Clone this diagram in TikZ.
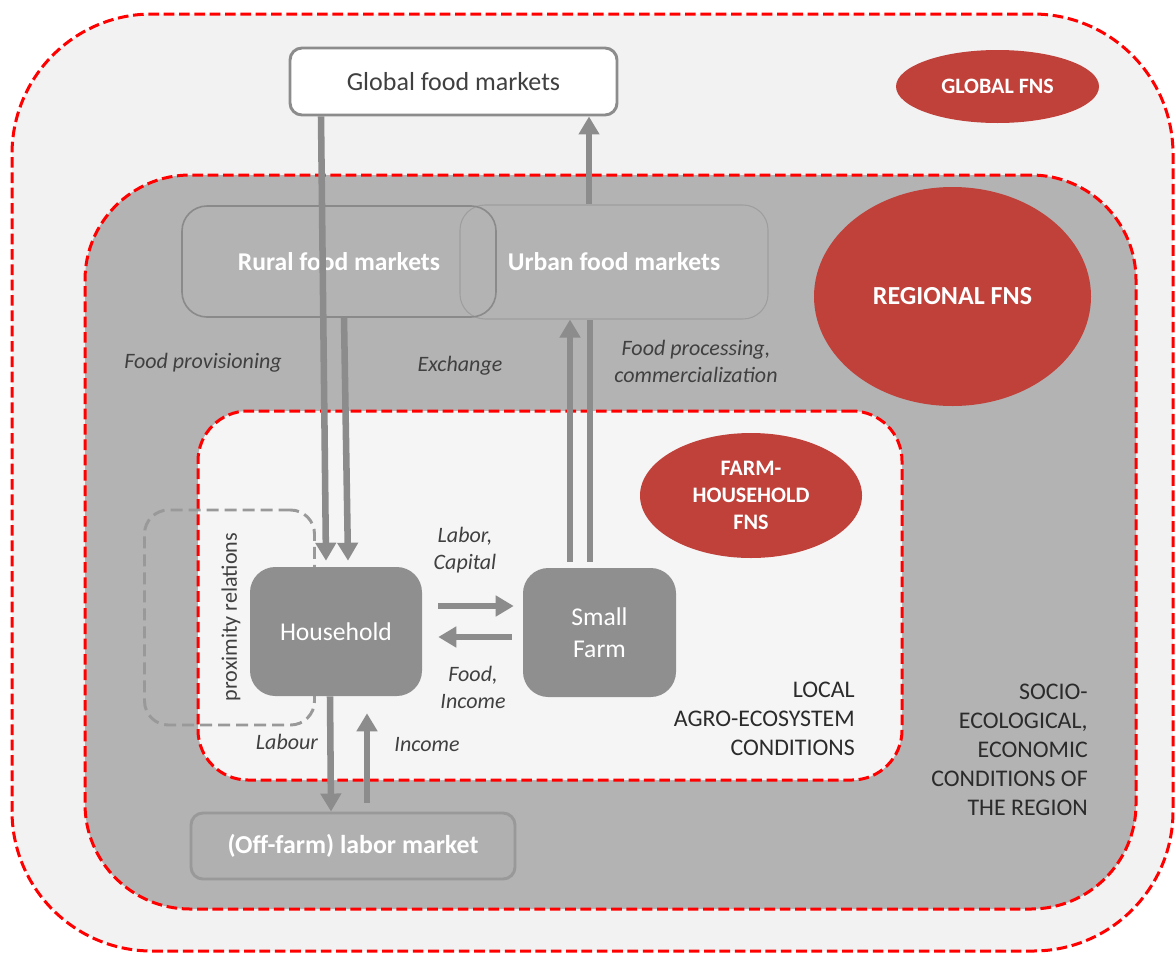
\documentclass[tikz,border=0pt]{standalone}
\usepackage{fontspec}
\setmainfont{Carlito}
\usetikzlibrary{arrows.meta,shapes.geometric,calc}
\definecolor{zonered}{HTML}{FF0000}
\definecolor{outerbg}{HTML}{F2F2F2}
\definecolor{regbg}{HTML}{B3B3B3}
\definecolor{locbg}{HTML}{F5F5F5}
\definecolor{boxgray}{HTML}{8F8F8F}
\definecolor{arrgray}{HTML}{8C8C8C}
\definecolor{fnsred}{HTML}{C0403A}
\definecolor{labeltext}{HTML}{404040}
\definecolor{condtext}{HTML}{2B2B2B}
\definecolor{urbanline}{HTML}{9E9E9E}
\definecolor{ruralline}{HTML}{8A8A8A}
\definecolor{dashgray}{HTML}{999999}
\definecolor{laborfill}{HTML}{B0B0B0}
\begin{document}
\begin{tikzpicture}[x=0.75pt,y=-0.75pt,
  zone/.style={draw=zonered, line width=2.25pt, dash pattern=on 8pt off 3.5pt, rectangle, inner sep=0pt},
  fns/.style={ellipse, fill=fnsred, text=white, inner sep=0pt, align=center},
  arr/.style={draw=arrgray, line width=4.9pt, -{Triangle[length=13.5pt,width=15pt]}},
  plainline/.style={draw=arrgray, line width=4.9pt},
  lbl/.style={font=\itshape\fontsize{16.5}{20.25}\selectfont, text=labeltext, align=center, inner sep=0pt},
  cond/.style={font=\fontsize{17.9}{21.75}\selectfont, text=condtext, align=right, inner sep=0pt},
  market/.style={rectangle, rounded corners=18.75pt, inner sep=0pt, text=white, font=\bfseries\fontsize{19.2}{23}\selectfont},
  actor/.style={rectangle, rounded corners=19pt, fill=boxgray, inner sep=0pt, text=white, align=center, font=\fontsize{19.2}{24}\selectfont}
]
\useasboundingbox (0,0) rectangle (1176,953);

% zones
\node[zone, fill=outerbg, rounded corners=105pt, minimum width=870.75pt, minimum height=702.75pt] (outer) at (592.5,482.5) {};
\node[zone, fill=regbg, rounded corners=78.75pt, minimum width=788.25pt, minimum height=550.5pt] (region) at (610.5,542) {};
\node[zone, fill=locbg, rounded corners=37.5pt, minimum width=528pt, minimum height=276.75pt] (local) at (550,595.5) {};

% FNS ellipses
\node[fns, minimum width=152.25pt, minimum height=54.75pt, font=\bfseries\fontsize{16.5}{20}\selectfont] (gfns) at (997.5,86.5) {GLOBAL FNS};
\node[fns, minimum width=207.75pt, minimum height=164.25pt, font=\bfseries\fontsize{19.5}{23}\selectfont] (rfns) at (952.5,296.5) {REGIONAL FNS};
\node[fns, minimum width=166.5pt, minimum height=93.75pt, font=\bfseries\fontsize{16.6}{20.25}\selectfont] (hfns) at (751,495.5) {FARM-\\HOUSEHOLD\\FNS};

% markets
\node[rectangle, rounded corners=9pt, draw=arrgray, line width=2.2pt, fill=white, minimum width=245.25pt, minimum height=50.25pt, text=labeltext, font=\fontsize{19.5}{23}\selectfont] (global) at (453.5,81.5) {Global food markets};
\node[market, draw=urbanline, line width=0.8pt, minimum width=231pt, minimum height=85.5pt] (urban) at (614,262) {Urban food markets};
\node[market, draw=ruralline, line width=1.2pt, minimum width=235.5pt, minimum height=83.25pt] (rural) at (339,261.5) {Rural food markets};

% proximity relations
\node[rectangle, rounded corners=18pt, draw=dashgray, line width=2.2pt, dash pattern=on 9pt off 4.5pt, minimum width=127.5pt, minimum height=161.25pt, inner sep=0pt] (prox) at (229.5,617.5) {};
\node[rotate=90, text=labeltext, font=\fontsize{16.6}{20}\selectfont, inner sep=0pt] (proxlbl) at (231,617) {proximity relations};

% actors
\node[actor, minimum width=129pt, minimum height=96.75pt] (hh) at (336,631.5) {Household};
\node[actor, minimum width=114.75pt, minimum height=96.75pt] (farm) at (599.5,632.5) {Small\\Farm};
\node[rectangle, rounded corners=9pt, draw=dashgray, line width=2.2pt, fill=laborfill, minimum width=243pt, minimum height=49.5pt, inner sep=0pt, text=white, font=\bfseries\fontsize{19.4}{23}\selectfont] (labor) at (353,846) {(Off-farm) labor market};

% connectors
\draw[arr] ($(global.south)+(-132.5,0)$) -- ($(hh.north)+(-10,-6)$);
\draw[arr] ($(rural.south)+(5,0)$) -- ($(hh.north)+(12,-6)$);
\draw[arr] ($(farm.north)+(-29.5,-6)$) -- ($(urban.south)+(-44,0)$);
\draw[plainline] ($(farm.north)+(-9.5,-6)$) -- ($(urban.south)+(-24,0)$);
\draw[arr] ($(urban.north)+(-25,0)$) -- ($(global.south)+(135.5,0)$);
\draw[arr] ($(hh.east)+(16,-25.5)$) -- ($(farm.west)+(-9,-26.5)$);
\draw[arr] ($(farm.west)+(-11,4.5)$) -- ($(hh.east)+(16,5.5)$);
\draw[arr] ($(hh.south)+(-6,0)$) -- ($(labor.north)+(-22,0)$);
\draw[arr] ($(labor.north)+(14,-9)$) -- ($(hh.south)+(31,17)$);

% labels
\node[lbl] (lprov) at (203,363) {Food provisioning};
\node[lbl] (lexch) at (460,366) {Exchange};
\node[lbl] (lproc) at (696,361) {Food processing,\\commercialization};
\node[lbl] (llab) at (465,550) {Labor,\\Capital};
\node[lbl] (lfood) at (473,687) {Food,\\Income};
\node[lbl] (llabour) at (287,742) {Labour};
\node[lbl] (linc) at (427,745) {Income};
\node[cond, anchor=east] (lcond) at (855,719) {LOCAL\\AGRO-ECOSYSTEM\\CONDITIONS};
\node[cond, anchor=east] (rcond) at (1088,750) {SOCIO-\\ECOLOGICAL,\\ECONOMIC\\CONDITIONS OF\\THE REGION};
\end{tikzpicture}
\end{document}
